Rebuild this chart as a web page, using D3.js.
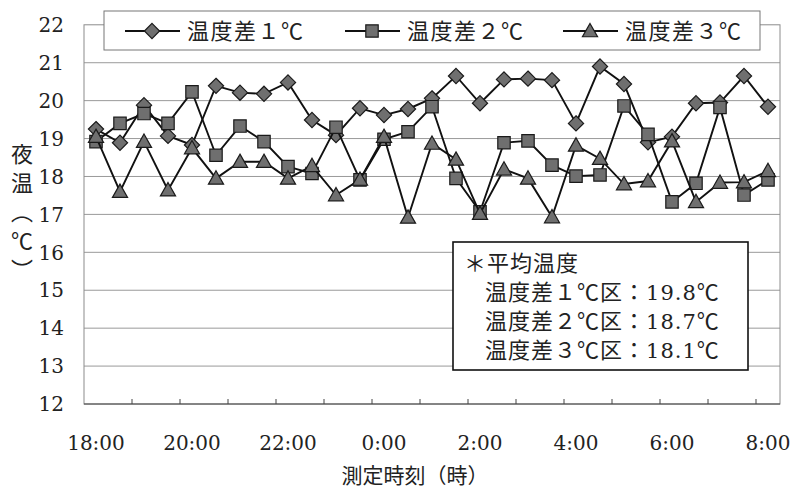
<!DOCTYPE html>
<html>
<head>
<meta charset="utf-8">
<script src="https://cdn.jsdelivr.net/npm/d3@7"></script>
<style>
  html, body { margin: 0; padding: 0; background: #fff; }
  svg { display: block; }
</style>
</head>
<body>
<svg id="chart" width="795" height="494"></svg>
<script>
// Measurement times, every 30 minutes from 18:00 to 8:00
const times = ["18:00","18:30","19:00","19:30","20:00","20:30","21:00","21:30","22:00","22:30",
  "23:00","23:30","0:00","0:30","1:00","1:30","2:00","2:30","3:00","3:30",
  "4:00","4:30","5:00","5:30","6:00","6:30","7:00","7:30","8:00"];

// Night temperature (℃) for each treatment
const diff1 = [19.25,18.89,19.88,19.07,18.83,20.39,20.21,20.18,20.48,19.49,
  19.09,19.80,19.62,19.78,20.06,20.65,19.93,20.56,20.58,20.54,
  19.40,20.90,20.44,18.90,19.05,19.93,19.95,20.65,19.84];
const diff2 = [18.92,19.40,19.66,19.40,20.23,18.56,19.33,18.92,18.26,18.08,
  19.30,17.91,18.98,19.18,19.84,17.95,17.07,18.89,18.94,18.30,
  18.01,18.04,19.86,19.11,17.33,17.82,19.82,17.51,17.91];
const diff3 = [19.05,17.60,18.92,17.64,18.75,17.95,18.39,18.39,17.95,18.28,
  17.51,17.92,19.05,16.92,18.87,18.45,17.02,18.19,17.95,16.93,
  18.82,18.47,17.80,17.88,18.93,17.33,17.84,17.85,18.15];

const seriesNames = ["温度差１℃", "温度差２℃", "温度差３℃"];
const yTicks = [12,13,14,15,16,17,18,19,20,21,22];
const avgLabels = ["温度差１℃区：", "温度差２℃区：", "温度差３℃区："];
const avgValues = [19.8, 18.7, 18.1];

const series = [
  { name: seriesNames[0], values: diff1, shape: "diamond" },
  { name: seriesNames[1], values: diff2, shape: "square" },
  { name: seriesNames[2], values: diff3, shape: "triangle" }
];

const svg = d3.select("#chart");
const cjk = "'Noto Sans CJK JP', 'Noto Sans CJK SC', sans-serif";
const num = "'DejaVu Serif', 'Liberation Serif', serif";

const plot = { left: 84, right: 780, top: 24.8, bottom: 404 };

const x = d3.scaleBand().domain(d3.range(times.length)).range([plot.left, plot.right]).padding(0);
const cx = i => x(i) + x.bandwidth() / 2;
const y = d3.scaleLinear().domain([12, 22]).range([plot.bottom, plot.top]);

// Horizontal gridlines
svg.append("g").selectAll("line").data(yTicks.filter(t => t > 12 && t < 22)).join("line")
  .attr("x1", plot.left).attr("x2", plot.right)
  .attr("y1", d => y(d)).attr("y2", d => y(d))
  .attr("stroke", "#9a9a9a").attr("stroke-width", 1);

// Plot frame
svg.append("rect")
  .attr("x", plot.left).attr("y", plot.top)
  .attr("width", plot.right - plot.left).attr("height", plot.bottom - plot.top)
  .attr("fill", "none").attr("stroke", "#8c8c8c").attr("stroke-width", 1);

// Bottom axis line with inward ticks every hour
svg.append("line")
  .attr("x1", plot.left).attr("x2", plot.right)
  .attr("y1", plot.bottom).attr("y2", plot.bottom)
  .attr("stroke", "#444").attr("stroke-width", 1.2);
svg.append("g").selectAll("line")
  .data(d3.range(2, times.length, 2)).join("line")
  .attr("x1", d => x(d)).attr("x2", d => x(d))
  .attr("y1", plot.bottom).attr("y2", plot.bottom - 5)
  .attr("stroke", "#444").attr("stroke-width", 1);

// Y tick labels
svg.append("g").selectAll("text").data(yTicks).join("text")
  .attr("x", 64).attr("y", d => y(d))
  .attr("dy", "0.36em")
  .attr("text-anchor", "end")
  .style("font-family", num).style("font-size", "20px")
  .attr("fill", "#222")
  .text(d => d);

// X tick labels every two hours
svg.append("g").selectAll("text")
  .data(d3.range(0, times.length, 4)).join("text")
  .attr("x", d => cx(d)).attr("y", 443)
  .attr("dy", "0.36em")
  .attr("text-anchor", "middle")
  .style("font-family", num).style("font-size", "20px")
  .attr("fill", "#222")
  .text(d => times[d]);

// Axis titles
svg.append("text")
  .attr("x", 415).attr("y", 476).attr("dy", "0.35em")
  .attr("text-anchor", "middle")
  .style("font-family", cjk).style("font-size", "21px")
  .attr("fill", "#222")
  .text("測定時刻（時）");

svg.append("text")
  .attr("x", 22).attr("y", 143)
  .style("writing-mode", "vertical-rl")
  .style("font-family", cjk).style("font-size", "22px")
  .style("letter-spacing", "7px")
  .attr("fill", "#222")
  .text("夜温（℃）");

// Marker shapes
const symbolPath = {
  diamond: s => `M0,${-s}L${s},0L0,${s}L${-s},0Z`,
  square: s => `M${-s},${-s}H${s}V${s}H${-s}Z`,
  triangle: s => `M0,${-s * 1.05}L${s * 1.05},${s * 0.8}L${-s * 1.05},${s * 0.8}Z`
};
const symbolSize = { diamond: 7.6, square: 6.2, triangle: 7.2 };
function drawMarker(g, shape, px, py) {
  g.append("path")
    .attr("transform", `translate(${px},${py})`)
    .attr("d", symbolPath[shape](symbolSize[shape]))
    .attr("fill", "#6f6f6f")
    .attr("stroke", "#1a1a1a")
    .attr("stroke-width", 1.2);
}

const line = d3.line().x((d, i) => cx(i)).y(d => y(d));

series.forEach(s => {
  const g = svg.append("g");
  g.append("path")
    .attr("d", line(s.values))
    .attr("fill", "none")
    .attr("stroke", "#111")
    .attr("stroke-width", 1.9);
  s.values.forEach((v, i) => drawMarker(g, s.shape, cx(i), y(v)));
});

// Legend box
const legend = svg.append("g");
legend.append("rect")
  .attr("x", 104).attr("y", 11).attr("width", 656).attr("height", 39)
  .attr("fill", "#fff").attr("stroke", "#777").attr("stroke-width", 1);
const legendX = [125, 345, 563];
series.forEach((s, i) => {
  const lx = legendX[i];
  legend.append("line")
    .attr("x1", lx).attr("x2", lx + 55).attr("y1", 31).attr("y2", 31)
    .attr("stroke", "#111").attr("stroke-width", 1.9);
  drawMarker(legend, s.shape, lx + 27, 31);
  legend.append("text")
    .attr("x", lx + 62).attr("y", 31).attr("dy", "0.36em")
    .style("font-family", cjk).style("font-size", "22px")
    .style("letter-spacing", "1.5px")
    .attr("fill", "#222")
    .text(s.name);
});

// Average temperature box
const note = svg.append("g");
note.append("rect")
  .attr("x", 453).attr("y", 242).attr("width", 295).attr("height", 128)
  .attr("fill", "#fff").attr("stroke", "#111").attr("stroke-width", 1.6);
note.append("text")
  .attr("x", 464).attr("y", 263).attr("dy", "0.36em")
  .style("font-family", cjk).style("font-size", "22px")
  .style("letter-spacing", "1px")
  .attr("fill", "#222")
  .text("＊平均温度");
avgLabels.forEach((lab, i) => {
  const t = note.append("text")
    .attr("x", 485).attr("y", 292 + i * 29).attr("dy", "0.36em")
    .style("font-family", cjk).style("font-size", "22px")
    .style("letter-spacing", "1px")
    .attr("fill", "#222");
  t.append("tspan").text(lab);
  t.append("tspan").style("font-family", num).style("font-size", "21px").text(avgValues[i].toFixed(1));
  t.append("tspan").text("℃");
});
</script>
</body>
</html>
